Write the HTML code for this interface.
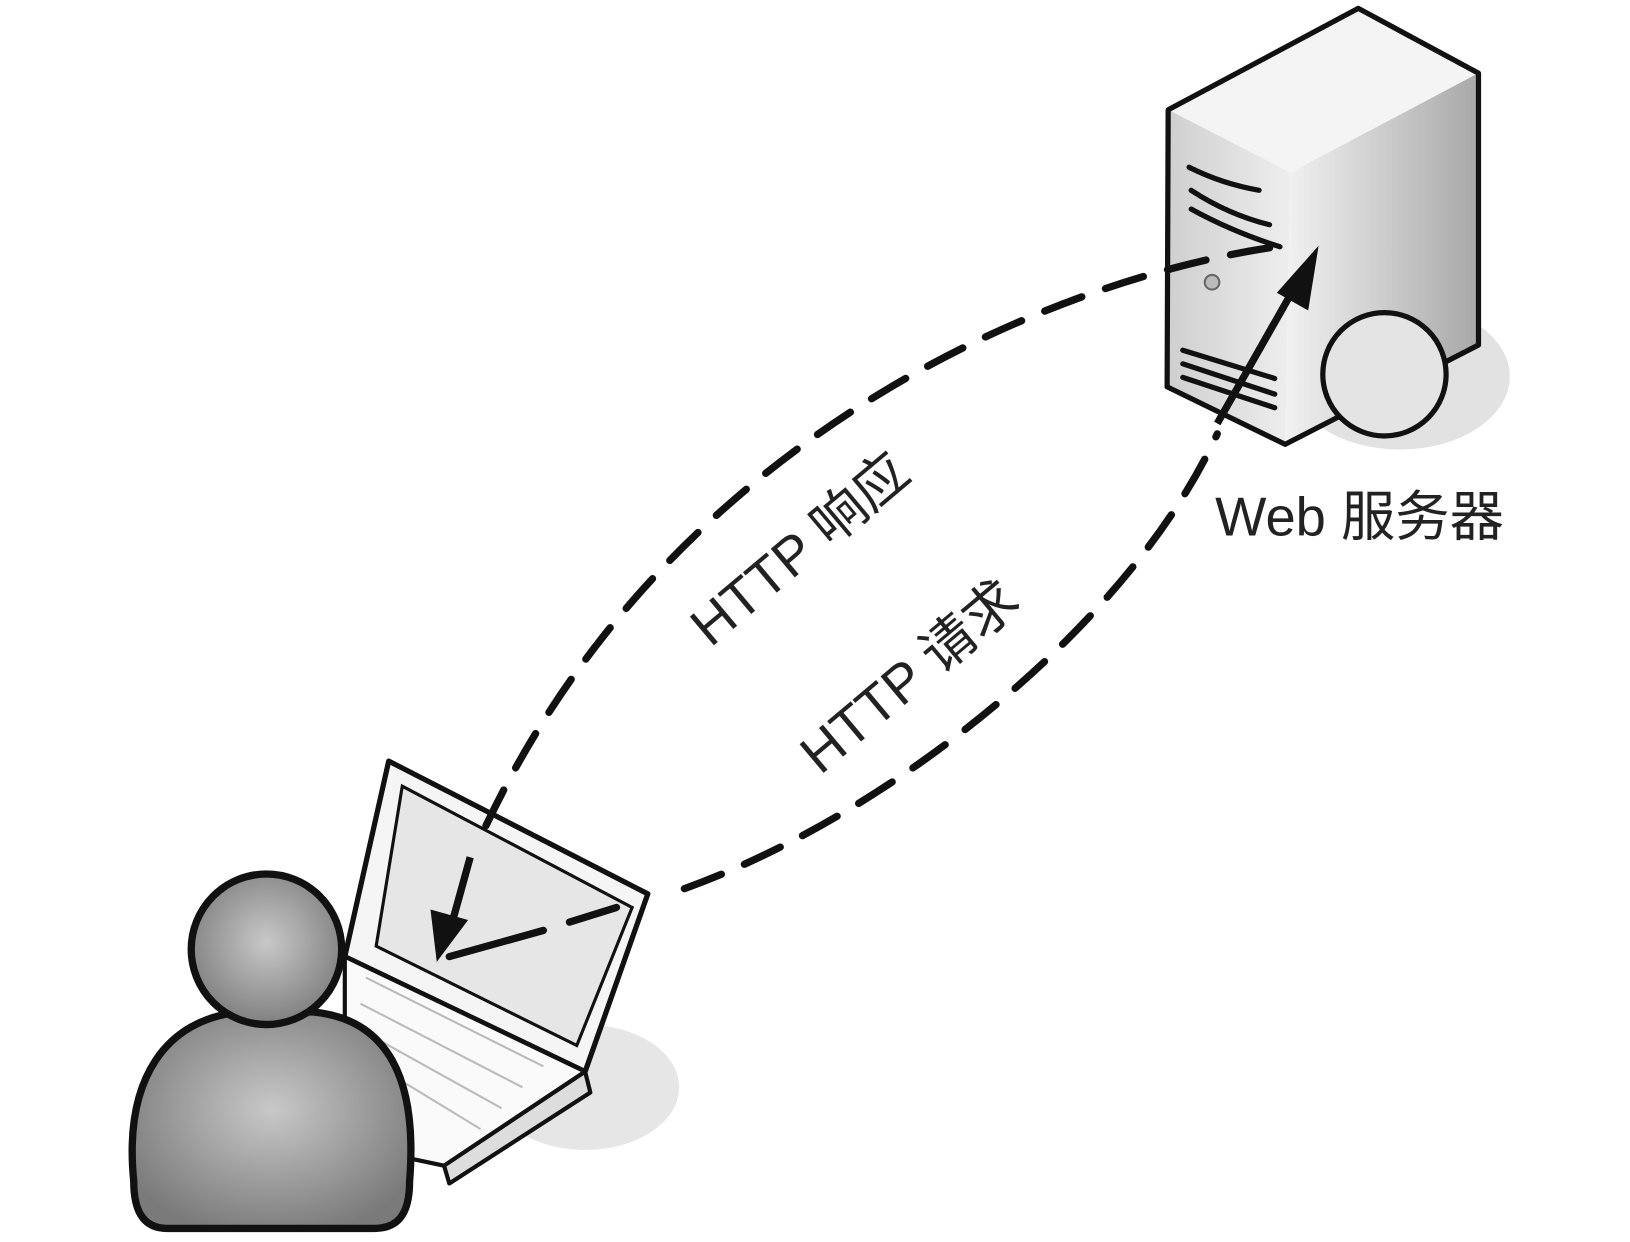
<!DOCTYPE html>
<html><head><meta charset="utf-8"><style>
html,body{margin:0;padding:0;background:#fff;width:1630px;height:1242px;overflow:hidden}
svg{display:block}
text{font-family:"Liberation Sans","Noto Sans CJK SC",sans-serif;fill:#222}
</style></head><body>
<svg width="1630" height="1242" viewBox="0 0 1560 1188" preserveAspectRatio="none" xmlns="http://www.w3.org/2000/svg">
<defs>
<linearGradient id="sr" x1="0" y1="0" x2="1" y2="0"><stop offset="0" stop-color="#f2f2f2"/><stop offset="1" stop-color="#a8a8a8"/></linearGradient>
<linearGradient id="sf" x1="0" y1="0" x2="1" y2="0"><stop offset="0" stop-color="#cfcfcf"/><stop offset="1" stop-color="#eeeeee"/></linearGradient>
<radialGradient id="pg" cx="0.5" cy="0.45" r="0.6"><stop offset="0" stop-color="#c8c8c8"/><stop offset="1" stop-color="#7a7a7a"/></radialGradient>
</defs>
<!-- shadows -->
<ellipse cx="1340" cy="360" rx="105" ry="70" fill="#e2e2e2"/>
<ellipse cx="560" cy="1040" rx="90" ry="60" fill="#e6e6e6"/>
<!-- server -->
<polygon points="1300,8 1415,70 1235,165 1118,105" fill="#f4f4f4"/>
<polygon points="1235,165 1415,70 1415,330 1230,425" fill="url(#sr)"/>
<polygon points="1118,105 1235,165 1230,425 1117,370" fill="url(#sf)"/>
<polygon points="1300,8 1415,70 1415,330 1230,425 1117,370 1118,105" fill="none" stroke="#111" stroke-width="5" stroke-linejoin="round"/>
<g stroke="#111" stroke-width="5" stroke-linecap="round" fill="none">
<path d="M1138,160 Q1170,176 1205,182"/>
<path d="M1140,182 Q1175,205 1215,215"/>
<path d="M1140,200 Q1180,222 1225,236"/>
<path d="M1132,335 L1220,362"/><path d="M1132,348 L1220,377"/><path d="M1132,361 L1220,390"/>
</g>
<circle cx="1160" cy="270" r="7" fill="#bbb" stroke="#666" stroke-width="2"/>
<circle cx="1325" cy="358" r="59" fill="#e4e4e4" stroke="#111" stroke-width="5"/>
<text x="1163" y="512" font-size="52">Web 服务器</text>
<!-- person & laptop -->
<polygon points="372,728 620,855 560,1025 330,915" fill="#f5f5f5" stroke="#111" stroke-width="5" stroke-linejoin="round"/>
<polygon points="385,752 605,868 552,1000 360,905" fill="#e6e6e6" stroke="#111" stroke-width="3"/>
<polygon points="330,915 560,1025 425,1115 330,1095" fill="#fafafa" stroke="#111" stroke-width="4" stroke-linejoin="round"/>
<polygon points="425,1115 560,1025 565,1045 430,1132" fill="#ddd" stroke="#111" stroke-width="4" stroke-linejoin="round"/>
<g stroke="#bbb" stroke-width="2" fill="none">
<path d="M350,935 L520,1020"/><path d="M345,960 L500,1040"/><path d="M345,985 L480,1060"/><path d="M345,1010 L460,1080"/>
</g>
<path d="M128,1130 C118,1030 160,975 230,968 L300,968 C370,975 400,1030 392,1130 C392,1165 378,1175 358,1175 L160,1175 C135,1175 128,1155 128,1130 Z" fill="url(#pg)" stroke="#111" stroke-width="7"/>
<circle cx="255" cy="908" r="72" fill="url(#pg)" stroke="#111" stroke-width="7"/>
<!-- response arc -->
<path d="M1215,237 C1000,270 640,420 465,790" fill="none" stroke="#111" stroke-width="7" stroke-dasharray="38,24" stroke-linecap="round"/>
<path d="M450,820 L432,885" stroke="#111" stroke-width="7"/>
<polygon points="418,920 412,870 448,880" fill="#111"/>
<path d="M430,915 L520,890 M545,882 L590,868" stroke="#111" stroke-width="7" stroke-linecap="round"/>
<!-- request arc -->
<path d="M655,850 C850,780 1080,600 1165,415" fill="none" stroke="#111" stroke-width="7" stroke-dasharray="38,24" stroke-linecap="round"/>
<path d="M1165,405 L1235,282" stroke="#111" stroke-width="7"/>
<polygon points="1262,235 1252,297 1222,280" fill="#111"/>
<text font-size="52" transform="translate(680,620) rotate(-40)">HTTP 响应</text>
<text font-size="52" transform="translate(785,742) rotate(-40)">HTTP 请求</text>
</svg>
</body></html>
